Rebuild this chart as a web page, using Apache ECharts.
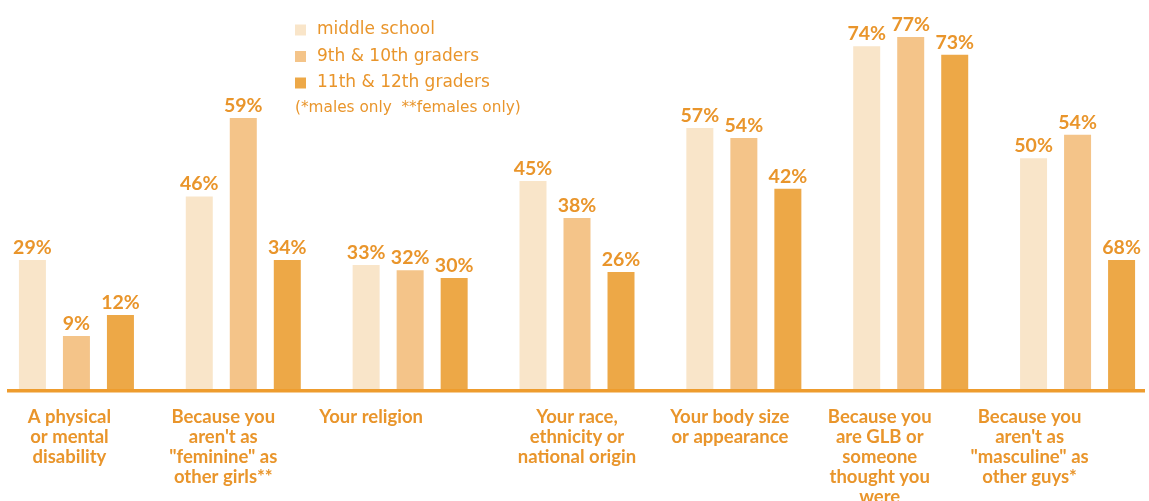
<!DOCTYPE html>
<html>
<head>
<meta charset="utf-8">
<script src="https://cdn.jsdelivr.net/npm/echarts@6/dist/echarts.min.js"></script>
<style>html,body{margin:0;padding:0;background:#fff;}#c{width:1149px;height:501px;}</style>
</head>
<body>
<div id="c"></div>
<script>
// Categories (line breaks as in the reference)
var categories = [
  'A physical\nor mental\ndisability',
  'Because you\naren\'t as\n"feminine" as\nother girls**',
  'Your religion',
  'Your race,\nethnicity or\nnational origin',
  'Your body size\nor appearance',
  'Because you\nare GLB or\nsomeone\nthought you\nwere',
  'Because you\naren\'t as\n"masculine" as\nother guys*'
];
var seriesNames = ['middle school', '9th & 10th graders', '11th & 12th graders'];
// Bar heights as drawn in the picture (percent scale)
var middleSchool = [28.2, 42.1, 27.1, 45.5, 57.1, 75.0, 50.5];
var grades9to10 = [11.6, 59.3, 26.0, 37.4, 54.9, 77.0, 55.6];
var grades11to12 = [16.2, 28.2, 24.3, 25.6, 43.8, 73.1, 28.2];
// Printed value labels
var middleSchoolLabels = ['29%', '46%', '33%', '45%', '57%', '74%', '50%'];
var grades9to10Labels = ['9%', '59%', '32%', '38%', '54%', '77%', '54%'];
var grades11to12Labels = ['12%', '34%', '30%', '26%', '42%', '73%', '68%'];
var noteText = '(*males only  **females only)';

var ORANGE = '#E9952B';
var colors = ['#F9E5C9', '#F4C489', '#EDA847'];
var labelShift = [7, 20, 39, 0, 14, 31, 48];

var rich = {};
labelShift.forEach(function (d, i) {
  rich['s' + i] = {
    fontFamily: 'Lato', fontWeight: 'bold', fontSize: 18.5, lineHeight: 20,
    color: ORANGE, padding: [0, 2 * d, 0, 0]
  };
});

function makeSeries(name, data, labels, color) {
  return {
    name: name, type: 'bar', data: data,
    barWidth: 27, barGap: '63%',
    itemStyle: { color: color },
    label: {
      show: true, position: 'top', distance: 2.5,
      formatter: function (p) { return labels[p.dataIndex]; },
      fontFamily: 'Lato', fontWeight: 'bold', fontSize: 19.5, color: ORANGE
    }
  };
}

var chart = echarts.init(document.getElementById('c'), null, { renderer: 'canvas' });
chart.setOption({
  animation: false,
  backgroundColor: '#fff',
  grid: { left: -7, width: 1168, top: 23.3, bottom: 112, containLabel: false, outerBoundsMode: 'none' },
  xAxis: {
    type: 'category', data: categories,
    axisLine: { show: false }, axisTick: { show: false },
    axisLabel: {
      interval: 0, margin: 18.5,
      formatter: function (v, i) {
        return v.split('\n').map(function (l) { return '{s' + i + '|' + l + '}'; }).join('\n');
      },
      rich: rich
    }
  },
  yAxis: { type: 'value', min: 0, max: 80, show: false, splitLine: { show: false } },
  legend: {
    orient: 'vertical', left: 295, top: 20, padding: 0,
    itemWidth: 11, itemHeight: 11, itemGap: 6.5,
    icon: 'rect',
    data: seriesNames,
    textStyle: { fontFamily: 'DejaVu Sans', fontSize: 17, lineHeight: 20, color: ORANGE, padding: [0, 0, 0, 6] }
  },
  title: {
    text: noteText, left: 295, top: 101, padding: 0,
    textStyle: { fontFamily: 'DejaVu Sans', fontWeight: 'normal', fontSize: 15.3, color: ORANGE }
  },
  graphic: [{
    type: 'rect', shape: { x: 7, y: 389, width: 1138, height: 3.5 },
    style: { fill: '#EE9C2E' }, z: 10
  }],
  series: [
    makeSeries(seriesNames[0], middleSchool, middleSchoolLabels, colors[0]),
    makeSeries(seriesNames[1], grades9to10, grades9to10Labels, colors[1]),
    makeSeries(seriesNames[2], grades11to12, grades11to12Labels, colors[2])
  ]
});
</script>
</body>
</html>
